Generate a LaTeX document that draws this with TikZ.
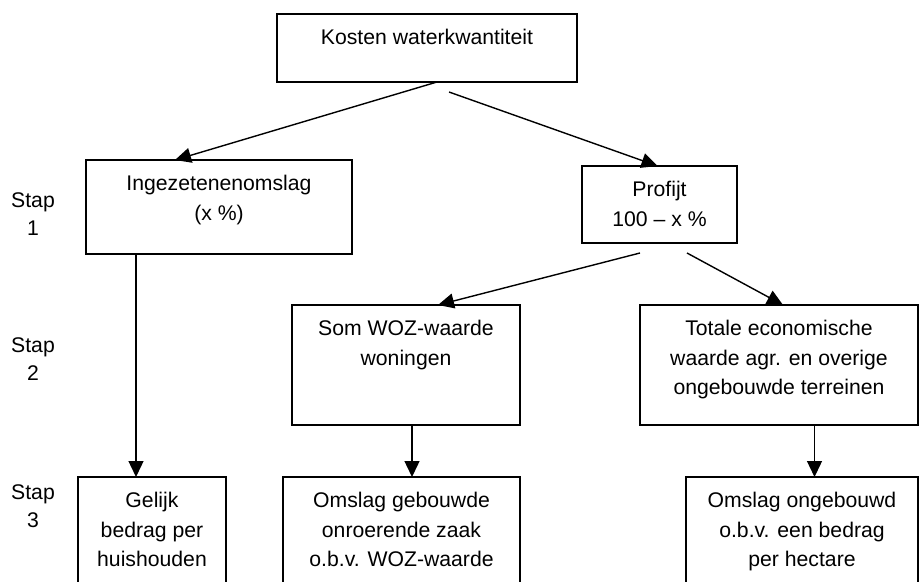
\documentclass[tikz,border=0pt]{standalone}
\usepackage{fontspec}
\setmainfont{Liberation Sans}
\usetikzlibrary{arrows.meta,positioning,calc}

\tikzset{
	blok/.style={draw, line width=0.7pt, outer sep=0pt, inner sep=0pt, anchor=north west},
	tekst/.style={anchor=north, align=center, inner sep=0pt, yshift=-7.5pt, font=\fontsize{10.6}{14.65}\selectfont},
	stap/.style={anchor=north, align=center, inner sep=0pt, font=\fontsize{10.6}{14}\selectfont},
	pijl/.style={-{Triangle[length=8pt,width=7.5pt]}, line width=0.7pt}
}

\begin{document}
\begin{tikzpicture}[x=0.5pt,y=-0.5pt]
	\clip (0,0) rectangle (919,582);
	% stappen
	\node[stap] (stap1) at (33,192) {Stap\\1};
	\node[stap] (stap2) at (33,337.5) {Stap\\2};
	\node[stap] (stap3) at (33,484) {Stap\\3};
	% blokken
	\node[blok, minimum width=150pt, minimum height=34pt, label={[tekst]north:{Kosten waterkwantiteit}}] (kosten) at (277,14) {};
	\node[blok, minimum width=133pt, minimum height=47pt, label={[tekst]north:{Ingezetenenomslag\\(x \%)}}] (ingez) at (86,160) {};
	\node[blok, minimum width=77.5pt, minimum height=38.5pt, label={[tekst]north:{Profijt\\100 -- x \%}}] (profijt) at (582,166) {};
	\node[blok, minimum width=114pt, minimum height=60pt, label={[tekst]north:{Som WOZ-waarde\\woningen}}] (som) at (292,305) {};
	\node[blok, minimum width=139pt, minimum height=60pt, label={[tekst]north:{Totale economische\\waarde agr. en overige\\ongebouwde terreinen}}] (totale) at (640,305) {};
	\node[blok, minimum width=74pt, minimum height=65pt, label={[tekst]north:{Gelijk\\bedrag per\\huishouden}}] (gelijk) at (78,477) {};
	\node[blok, minimum width=118.5pt, minimum height=65pt, label={[tekst]north:{Omslag gebouwde\\onroerende zaak\\o.b.v. WOZ-waarde}}] (gebouwd) at (283,477) {};
	\node[blok, minimum width=116pt, minimum height=65pt, label={[tekst]north:{Omslag ongebouwd\\o.b.v. een bedrag\\per hectare}}] (ongebouwd) at (686,477) {};
	% pijlen
	\draw[pijl] ([xshift=5pt]kosten.south) -- ([xshift=-22pt]ingez.north);
	\draw[pijl] ($(kosten.south)+(22,10)$) -- ([xshift=-1pt]profijt.north);
	\draw[pijl] ($(profijt.south)+(-19.5,10)$) -- ([xshift=16pt]som.north);
	\draw[pijl] ($(profijt.south)+(27.5,10)$) -- ([xshift=2pt]totale.north);
	\draw[pijl] ([xshift=-41.5pt]ingez.south) -- ([xshift=-41.5pt]ingez.south |- gelijk.north);
	\draw[pijl] ([xshift=3pt]som.south) -- ([xshift=3pt]som.south |- gebouwd.north);
	\draw[pijl] ([xshift=17.75pt]totale.south) -- ([xshift=17.75pt]totale.south |- ongebouwd.north);
\end{tikzpicture}
\end{document}
